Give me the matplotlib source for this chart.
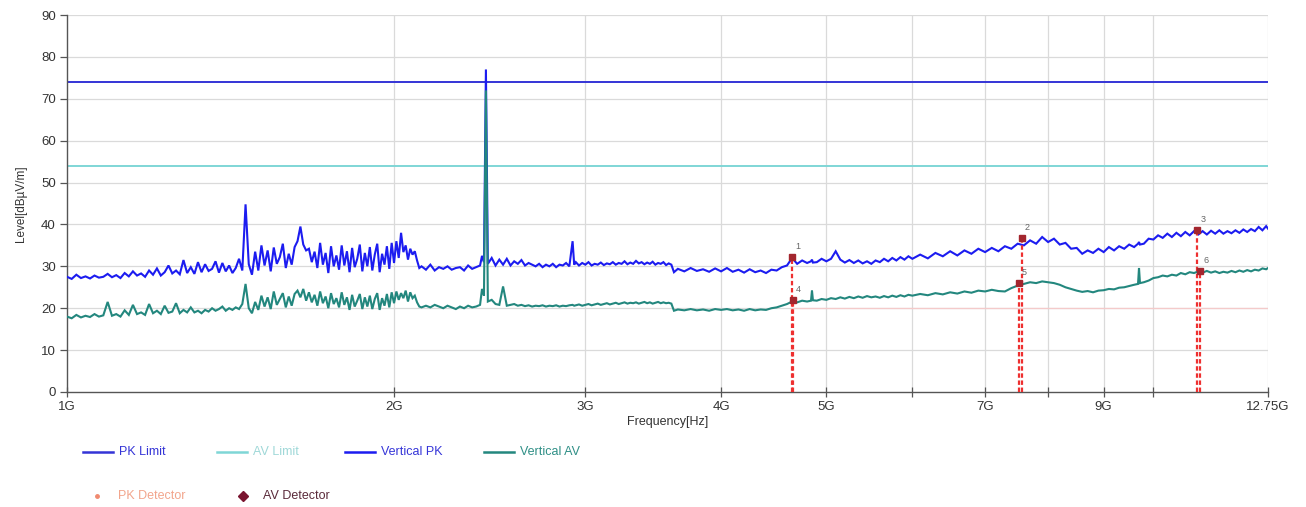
import matplotlib
matplotlib.use("Agg")
import matplotlib.pyplot as plt
from matplotlib.lines import Line2D
from matplotlib.ticker import FixedLocator, NullLocator

# ---------------- data (frequencies in GHz, levels in dBuV/m) ----------------
FREQ_GHZ = [
    1.00, 1.01, 1.02, 1.03, 1.04, 1.05, 1.06, 1.07, 1.08, 1.09,
    1.10, 1.11, 1.12, 1.13, 1.14, 1.15, 1.16, 1.17, 1.18, 1.19,
    1.20, 1.21, 1.22, 1.23, 1.24, 1.25, 1.26, 1.27, 1.28, 1.29,
    1.30, 1.31, 1.32, 1.33, 1.34, 1.35, 1.36, 1.37, 1.38, 1.39,
    1.40, 1.41, 1.42, 1.43, 1.44, 1.45, 1.46, 1.47, 1.48, 1.49,
    1.50, 1.51, 1.52, 1.53, 1.54, 1.55, 1.56, 1.57, 1.58, 1.59,
    1.60, 1.61, 1.62, 1.63, 1.64, 1.65, 1.66, 1.67, 1.68, 1.69,
    1.70, 1.71, 1.72, 1.73, 1.74, 1.75, 1.76, 1.77, 1.78, 1.79,
    1.80, 1.81, 1.82, 1.83, 1.84, 1.85, 1.86, 1.87, 1.88, 1.89,
    1.90, 1.91, 1.92, 1.93, 1.94, 1.95, 1.96, 1.97, 1.98, 1.99,
    2.00, 2.01, 2.02, 2.03, 2.04, 2.05, 2.06, 2.07, 2.08, 2.09,
    2.10, 2.11, 2.12,
    2.14, 2.16, 2.18, 2.20, 2.22, 2.24, 2.26, 2.28, 2.30, 2.32, 2.34, 2.36, 2.38, 2.40,
    2.41, 2.42, 2.43, 2.44,
    2.46, 2.48, 2.50, 2.52, 2.54, 2.56, 2.58, 2.60, 2.62, 2.64, 2.66, 2.68,
    2.70, 2.72, 2.74, 2.76, 2.78, 2.80, 2.82, 2.84, 2.86, 2.88, 2.90,
    2.92, 2.93,
    2.94, 2.96, 2.98, 3.00, 3.02, 3.04, 3.06, 3.08, 3.10, 3.12, 3.14, 3.16,
    3.18, 3.20, 3.22, 3.24, 3.26, 3.28, 3.30, 3.32, 3.34, 3.36, 3.38, 3.40,
    3.42, 3.44, 3.46, 3.48, 3.50, 3.52, 3.54, 3.56, 3.58, 3.60,
    3.62, 3.65, 3.70, 3.75, 3.80, 3.85, 3.90, 3.95, 4.00, 4.05, 4.10, 4.15,
    4.20, 4.25, 4.30, 4.35, 4.40, 4.45, 4.50, 4.55, 4.60, 4.65, 4.70, 4.75,
    4.80, 4.84, 4.85, 4.86, 4.90, 4.95, 5.00, 5.05, 5.10, 5.15, 5.20, 5.25, 5.30, 5.35,
    5.40, 5.45, 5.50, 5.55, 5.60, 5.65, 5.70, 5.75, 5.80, 5.85, 5.90, 5.95, 6.00,
    6.1, 6.2, 6.3, 6.4, 6.5, 6.6, 6.7, 6.8, 6.9, 7.0,
    7.1, 7.2, 7.3, 7.4, 7.5, 7.6, 7.7, 7.8, 7.9, 8.0,
    8.1, 8.2, 8.3, 8.4, 8.5, 8.6, 8.7, 8.8, 8.9, 9.0,
    9.1, 9.2, 9.3, 9.4, 9.5, 9.6, 9.68, 9.70, 9.72, 9.8, 9.9, 10.0,
    10.1, 10.2, 10.3, 10.4, 10.5, 10.6, 10.7, 10.8, 10.9, 11.0,
    11.1, 11.2, 11.3, 11.4, 11.5, 11.6, 11.7, 11.8, 11.9, 12.0,
    12.1, 12.2, 12.3, 12.4, 12.5, 12.6, 12.7, 12.75,
]

VERTICAL_PK = [
    27.5, 27.0, 28.0, 27.2, 27.6, 27.1, 27.8, 27.3, 27.5, 28.2,
    27.4, 27.9, 27.2, 28.4, 27.6, 28.8, 27.8, 28.3, 27.5, 29.0,
    28.0, 29.5, 27.8, 28.6, 30.2, 28.3, 29.0, 28.1, 31.5, 28.4,
    29.8, 28.2, 31.0, 28.6, 30.5, 28.9, 29.4, 31.2, 28.5, 30.8,
    28.8, 30.2, 28.4, 29.6, 31.8, 29.0, 44.8, 30.5, 28.0, 33.5,
    29.0, 35.0, 30.2, 33.8, 28.8, 34.5, 30.6, 32.2, 35.4, 29.6,
    33.0, 30.4, 34.6, 36.0, 39.5, 35.2, 33.8, 34.2, 31.0, 33.5,
    29.6, 35.6, 30.4, 33.2, 28.4, 34.8, 30.0, 32.6, 29.2, 35.0,
    30.2, 33.6, 28.6, 34.4, 29.8, 31.8, 35.2, 28.8, 33.2, 30.0,
    34.6, 29.0, 32.8, 35.4, 28.6, 33.0, 30.4, 34.8, 29.4, 35.6,
    30.8, 36.0, 32.0, 38.0, 33.4, 35.0, 31.6, 34.2, 32.8, 33.6,
    31.4, 29.6, 30.0,
    29.2, 30.4, 29.0, 29.8, 29.4, 30.0, 29.2, 29.6, 29.8, 29.0, 30.2, 29.4, 29.8, 30.2,
    32.5, 31.0, 77.0, 30.6,
    32.0, 30.2, 31.6, 30.4, 31.8, 30.2, 31.2, 30.6, 31.5, 30.2, 30.8, 30.4,
    30.0, 30.6, 29.8, 30.4, 30.0, 30.6, 29.8, 30.4, 30.2, 30.8, 30.0,
    36.0, 30.4,
    31.0, 30.2, 30.8, 30.4, 31.0, 30.2, 30.6, 30.4, 30.9, 30.3, 30.7, 30.5,
    31.0, 30.4, 30.8, 30.6, 31.2, 30.5, 30.9, 30.6, 31.3, 30.7, 31.0, 30.5,
    30.9, 30.6, 31.1, 30.4, 30.8, 30.6, 31.0, 30.3, 30.7, 30.4,
    28.6, 29.4, 28.8, 29.6, 28.9, 29.3, 28.7, 29.5, 28.8, 29.6, 28.7, 29.2,
    28.5, 29.3, 28.6, 29.0, 28.4, 29.2, 29.0, 29.8, 30.2, 32.0, 30.6, 31.4,
    30.8, 31.2, 31.6, 30.9, 31.0, 31.8, 31.2, 31.8, 33.6, 31.6, 30.9, 31.5, 30.8, 31.4,
    30.7, 31.2, 30.6, 31.4, 31.0, 31.8, 31.2, 32.0, 31.4, 32.2, 31.6, 32.4, 31.8,
    32.8, 31.9, 33.2, 32.4, 33.6, 32.6, 33.8, 33.0, 34.2, 33.4,
    34.4, 33.6, 34.8, 34.2, 35.4, 35.0, 36.2, 35.4, 37.0, 35.8,
    36.6, 35.2, 35.6, 34.2, 34.4, 33.0, 33.8, 33.2, 34.2, 33.4,
    34.6, 33.8, 34.8, 34.2, 35.2, 34.6, 35.4, 35.8, 35.2, 35.4, 36.6, 36.4,
    37.4, 36.8, 37.8, 37.0, 38.0, 37.2, 38.2, 37.4, 38.4, 37.6,
    38.4, 37.6, 38.5, 37.8, 38.6, 37.8, 38.4, 37.9, 38.6, 38.0,
    38.8, 38.2, 38.9, 38.4, 39.4, 38.6, 39.6, 39.0,
]

VERTICAL_AV = [
    18.0, 17.6, 18.4, 17.8, 18.2, 17.9, 18.6, 18.0, 18.3, 21.5,
    18.2, 18.6, 18.0, 19.5, 18.4, 20.8, 18.6, 19.0, 18.4, 21.0,
    18.8, 19.4, 18.6, 20.6, 18.9, 19.2, 21.2, 18.8, 19.6, 19.0,
    20.2, 19.0, 19.4, 18.8, 19.6, 19.2, 20.0, 19.4, 19.8, 20.4,
    19.4, 20.0, 19.6, 20.2, 19.8, 21.0, 25.8, 20.0, 18.8, 21.5,
    19.6, 23.0, 20.4, 22.6, 19.8, 24.0, 20.8, 22.2, 23.6, 20.2,
    22.8, 20.6, 23.4, 24.2, 22.6, 24.6, 21.8, 23.8, 21.4, 23.2,
    20.6, 24.0, 21.2, 22.8, 20.0, 23.6, 21.0, 22.4, 20.2, 23.8,
    20.8, 22.6, 19.6, 23.2, 20.4, 21.8, 23.4, 19.8, 22.6, 20.4,
    23.0, 19.8, 22.2, 23.6, 19.6, 22.4, 20.6, 23.4, 20.2, 23.8,
    21.2, 24.0, 22.0, 23.6, 22.4, 24.2, 21.6, 23.8, 22.4, 23.0,
    21.4, 20.4, 20.2,
    20.6, 20.2, 20.8, 20.4, 20.0, 20.6, 20.2, 19.8, 20.4, 20.0, 20.6, 20.2, 20.4, 20.8,
    24.6, 23.0, 72.0, 21.6,
    22.0, 21.0, 20.8, 25.2, 20.6, 20.8, 21.0, 20.6, 20.8, 20.5, 20.7, 20.4,
    20.6, 20.5, 20.7, 20.4, 20.6, 20.5, 20.7, 20.4, 20.6, 20.5, 20.7,
    20.8, 20.6,
    20.7, 20.9, 20.6, 20.8, 21.0, 20.7, 20.9, 21.1, 20.8, 21.0, 21.2, 20.9,
    21.1, 21.3, 21.0, 21.2, 21.4, 21.1, 21.3, 21.2, 21.4, 21.1, 21.3, 21.5,
    21.2, 21.4, 21.1, 21.3, 21.5, 21.2, 21.4, 21.2, 21.3, 21.1,
    19.4, 19.7, 19.5, 19.8, 19.5, 19.7, 19.4, 19.8, 19.6, 19.8, 19.5, 19.7,
    19.4, 19.8, 19.5, 19.7, 19.6, 20.0, 20.2, 20.6, 21.0, 21.6, 21.4, 21.8,
    21.6, 21.8, 24.2, 21.9, 21.8, 22.2, 22.0, 22.4, 22.2, 22.6, 22.3, 22.7, 22.4, 22.8,
    22.5, 22.9, 22.6, 22.8, 22.5, 22.9, 22.6, 23.0, 22.7, 23.1, 22.8, 23.2, 23.0,
    23.4, 23.1, 23.6, 23.3, 23.8, 23.5, 24.0, 23.7, 24.2, 24.0,
    24.4, 24.1, 24.0, 24.8, 25.4, 25.8, 26.2, 26.0, 26.4, 26.2,
    26.0, 25.6, 25.0, 24.6, 24.2, 23.9, 24.1, 23.8, 24.2, 24.3,
    24.6, 24.5, 24.9, 25.0, 25.3, 25.6, 25.8, 29.6, 26.0, 26.2, 26.6, 27.2,
    27.4, 27.8, 27.6, 28.0, 27.8, 28.4, 28.1, 28.6, 28.4, 28.8,
    28.5, 28.9, 28.5, 28.8, 28.4, 28.7, 28.5, 28.9, 28.6, 29.0,
    28.7, 29.1, 28.8, 29.2, 29.0, 29.5, 29.3, 29.6,
]

PK_LIMIT = 74.0
AV_LIMIT = 54.0

PK_MARK_FREQ = [4.65, 7.57, 10.98]
PK_MARK_LEVEL = [32.2, 36.8, 38.7]
PK_MARK_LABEL = ["1", "2", "3"]
AV_MARK_FREQ = [4.66, 7.52, 11.05]
AV_MARK_LEVEL = [21.9, 26.0, 28.9]
AV_MARK_LABEL = ["4", "5", "6"]

X_TICKS = [1, 2, 3, 4, 5, 6, 7, 8, 9, 10, 12.75]
X_TICK_LABELS = ["1G", "2G", "3G", "4G", "5G", "", "7G", "", "9G", "", "12.75G"]
Y_TICKS = [0, 10, 20, 30, 40, 50, 60, 70, 80, 90]

# ---------------- style ----------------
C_PK_LIMIT = "#3434d6"
C_AV_LIMIT = "#7fd6d6"
C_PK = "#1c1cf0"
C_AV = "#23877e"
C_MARK = "#a3262e"
C_RED = "#ee3030"
C_GRID = "#dadada"
C_TEXT = "#333333"

plt.rcParams["font.family"] = ["Liberation Sans", "DejaVu Sans"]

fig = plt.figure(figsize=(13.06, 5.07), dpi=100)
ax = fig.add_axes([67 / 1306, 1 - 392 / 507, (1268 - 67) / 1306, (392 - 15) / 507])

ax.set_xscale("log")
ax.set_xlim(1.0, 12.75)
ax.set_ylim(0, 90)

# grid
for y in Y_TICKS[1:]:
    ax.axhline(y, color=C_GRID, lw=0.9, zorder=0)
for x in X_TICKS[1:]:
    ax.axvline(x, color=C_GRID, lw=0.9, zorder=0)
ax.plot([4.65, 12.75], [20, 20], color="#f4caca", lw=0.9, zorder=0.5)

# limits
ax.axhline(PK_LIMIT, color=C_PK_LIMIT, lw=1.4, zorder=2)
ax.axhline(AV_LIMIT, color=C_AV_LIMIT, lw=1.4, zorder=2)

# traces
ax.plot(FREQ_GHZ, VERTICAL_PK, color=C_PK, lw=1.5, zorder=3, solid_joinstyle="miter")
ax.plot(FREQ_GHZ, VERTICAL_AV, color=C_AV, lw=1.5, zorder=4, solid_joinstyle="miter")

# markers with dashed drop lines
for f, v, lab in zip(PK_MARK_FREQ, PK_MARK_LEVEL, PK_MARK_LABEL):
    ax.plot([f, f], [0, v], color=C_RED, lw=1.6, ls=(0, (2, 1.2)), zorder=5)
    ax.plot([f], [v], marker="s", ms=5, color=C_MARK, zorder=6)
    ax.annotate(lab, (f, v), xytext=(2, 6), textcoords="offset points",
                fontsize=6.5, color="#666666", zorder=7)
for f, v, lab in zip(AV_MARK_FREQ, AV_MARK_LEVEL, AV_MARK_LABEL):
    ax.plot([f, f], [0, v], color=C_RED, lw=1.6, ls=(0, (2, 1.2)), zorder=5)
    ax.plot([f], [v], marker="s", ms=5, color=C_MARK, zorder=6)
    ax.annotate(lab, (f, v), xytext=(2, 6), textcoords="offset points",
                fontsize=6.5, color="#666666", zorder=7)

# axes styling
ax.xaxis.set_major_locator(FixedLocator(X_TICKS))
ax.xaxis.set_minor_locator(NullLocator())
ax.set_xticklabels(X_TICK_LABELS)
ax.set_yticks(Y_TICKS)
for s in ["top", "right"]:
    ax.spines[s].set_visible(False)
for s in ["left", "bottom"]:
    ax.spines[s].set_color("#555555")
    ax.spines[s].set_linewidth(1.0)
ax.tick_params(axis="x", direction="inout", length=7, width=0.9, colors="#555555",
               labelcolor=C_TEXT, labelsize=9.5, pad=3)
ax.tick_params(axis="y", direction="out", length=5, width=0.9, colors="#555555",
               labelcolor=C_TEXT, labelsize=9.5, pad=3)
ax.set_xlabel("Frequency[Hz]", fontsize=9, color=C_TEXT, labelpad=2)
ax.set_ylabel("Level[dBµV/m]", fontsize=8.5, color=C_TEXT, labelpad=10)

# legend (manual, below chart)
def px(x, y):
    return (x / 1306, 1 - y / 507)

legend_row1 = [
    (83, "PK Limit", C_PK_LIMIT, C_PK_LIMIT),
    (217, "AV Limit", C_AV_LIMIT, "#9fd8d8"),
    (345, "Vertical PK", C_PK, "#3535d8"),
    (484, "Vertical AV", C_AV, "#2f8f86"),
]
for x0, txt, lc, tc in legend_row1:
    x1, y1 = px(x0, 452)
    x2, _ = px(x0 + 30, 452)
    fig.add_artist(Line2D([x1, x2], [y1, y1], color=lc, lw=1.8, transform=fig.transFigure))
    tx, ty = px(x0 + 36, 452)
    fig.text(tx, ty, txt, fontsize=9, color=tc, va="center", ha="left")

mx, my = px(97, 496)
fig.add_artist(Line2D([mx], [my], marker="o", ms=2.5, color="#f08a70", lw=0,
                      transform=fig.transFigure))
tx, ty = px(118, 496)
fig.text(tx, ty, "PK Detector", fontsize=9, color="#f2a58c", va="center", ha="left")
mx, my = px(243, 496)
fig.add_artist(Line2D([mx], [my], marker="D", ms=5, color="#7a1530", lw=0,
                      transform=fig.transFigure))
tx, ty = px(263, 496)
fig.text(tx, ty, "AV Detector", fontsize=9, color="#5a2a3a", va="center", ha="left")

fig.savefig("out.png", dpi=100)
